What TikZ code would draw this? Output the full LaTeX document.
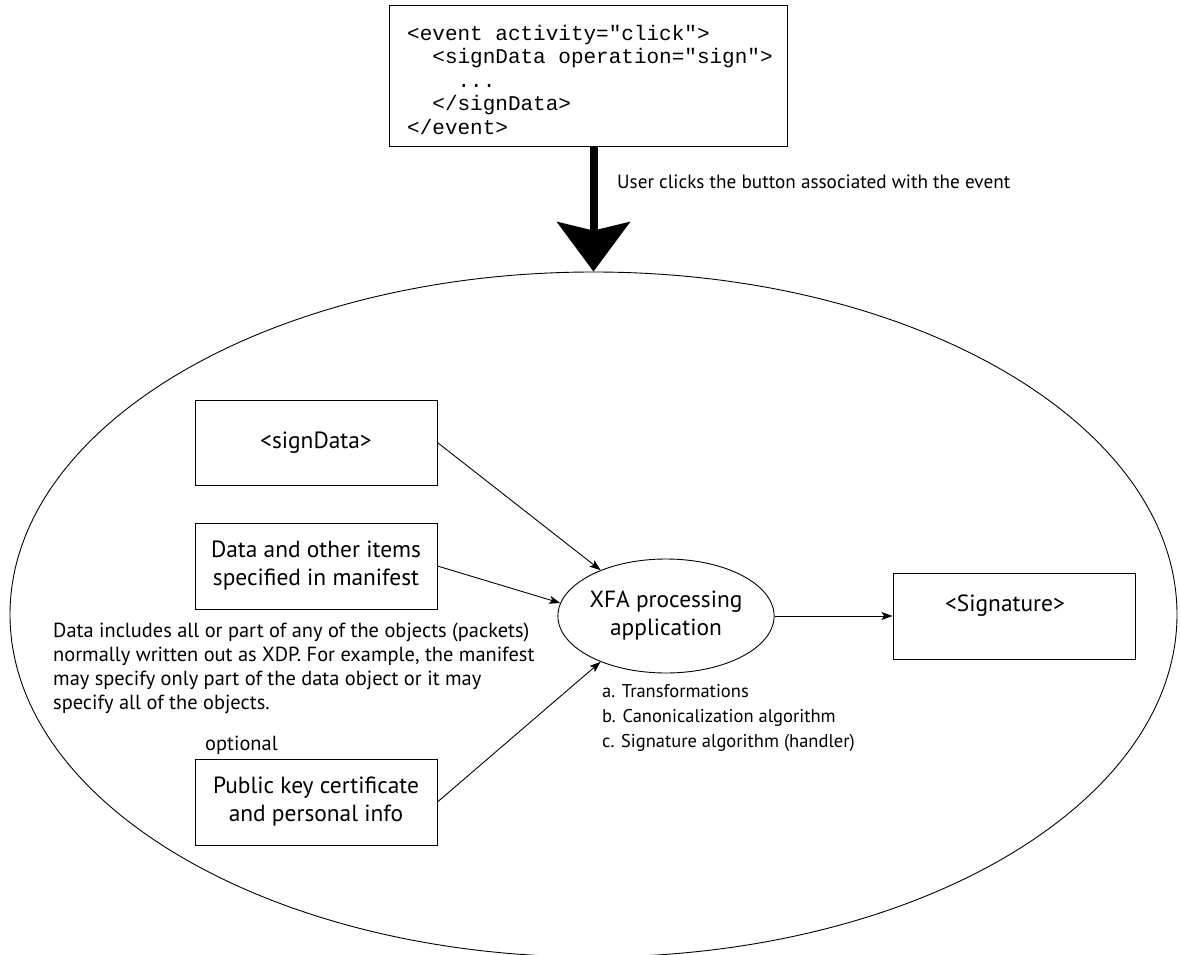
\documentclass[tikz,border=0pt]{standalone}
\usepackage{fontspec}
\setmainfont{PT Sans}
\newfontfamily\codefont{Liberation Mono}
\usetikzlibrary{shapes.geometric,arrows.meta}
\tikzset{
  frame/.style={draw=black, line width=0.9pt, minimum width=242pt, minimum height=86pt, inner sep=0pt,
                align=center, font=\fontsize{23.4}{28}\selectfont},
  conn/.style={draw=black, line width=0.9pt, -{Stealth[length=11pt,width=8pt,inset=2.5pt]}},
  smalltext/.style={inner sep=0pt, align=left, font=\fontsize{19.2}{25}\selectfont},
  paratext/.style={inner sep=0pt, align=left, font=\fontsize{20.4}{24}\selectfont},
}
\begin{document}
\begin{tikzpicture}[x=1pt,y=-1pt]
\useasboundingbox (0,0) rectangle (1181,955);
% big ellipse
\node[ellipse, draw=black, line width=0.9pt, minimum width=1167pt, minimum height=685pt, inner sep=0pt] (bigell) at (593.5,614.5) {};
% code box
\node[draw=black, line width=0.9pt, minimum width=398pt, minimum height=141pt, inner sep=0pt] (code) at (588,75.5) {};
\node[anchor=north west, inner sep=0pt, align=left, font=\codefont\fontsize{21}{23.5}\selectfont] (codetext) at (407,25)
{<event activity="click">\\
\hspace*{25.2pt}<signData operation="sign">\\
\hspace*{50.4pt}...\\
\hspace*{25.2pt}</signData>\\
</event>};
% big arrow
\draw[line width=8pt, -{Stealth[length=50pt,width=74pt,inset=9pt,line width=0pt]}] (code.south -| bigell.north) -- (bigell.north);
\node[smalltext, anchor=west] (click) at (617,182) {User clicks the button associated with the event};
% boxes
\node[frame, minimum height=85pt] (sign) at (316,442.5) {<signData>};
\node[frame] (data) at (316,566) {Data and other items\\specified in manifest};
\node[frame] (pub) at (316,802) {Public key certificate\\and personal info};
\node[frame] (sig) at (1014,616) {};
\node[inner sep=0pt, font=\fontsize{23.4}{28}\selectfont] (sigtext) at (1005,606) {<Signature>};
\node[ellipse, draw=black, line width=0.9pt, minimum width=182pt, minimum height=114pt, inner sep=0pt,
      align=center, font=\fontsize{23.4}{28}\selectfont] (xfa) at (666,616) {XFA processing\\application};
% texts
\node[paratext, anchor=west] (optional) at (205,745) {optional};
\node[paratext, anchor=west] (para) at (53,668) {Data includes all or part of any of the objects (packets)\\normally written out as XDP. For example, the manifest\\may specify only part of the data object or it may\\specify all of the objects.};
\node[inner sep=0pt, align=left, font=\fontsize{18.5}{25}\selectfont, anchor=west] (steps) at (602,718) {a. Transformations\\b. Canonicalization algorithm\\c. Signature algorithm (handler)};
% connectors
\draw[conn] (sign.east) -- (xfa.145);
\draw[conn] (data.east) -- (xfa.173);
\draw[conn] (pub.east) -- (xfa.215);
\draw[conn] (xfa.east) -- (sig.west);
\end{tikzpicture}
\end{document}
